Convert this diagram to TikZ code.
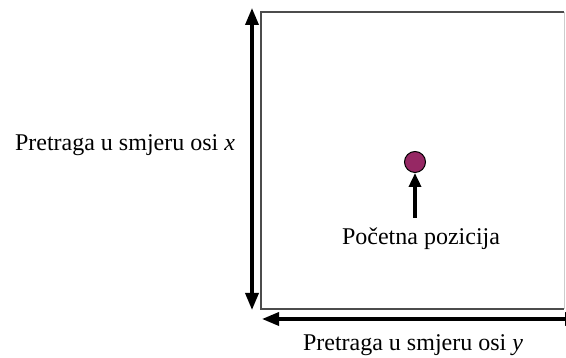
\documentclass[tikz,border=0pt]{standalone}
\usepackage{fontspec}
\setmainfont{Liberation Serif}
\usetikzlibrary{arrows.meta}
\definecolor{pointcol}{RGB}{150,40,100}
\tikzset{
    axisarrow/.style={line width=3.4pt, {Triangle[width=13pt,length=17pt]}-{Triangle[width=13pt,length=17pt]}},
    label/.style={font=\fontsize{24}{28}\selectfont}
}
\begin{document}
\begin{tikzpicture}[x=1pt,y=1pt]
    \useasboundingbox (0,0) rectangle (566,358);
    \clip (0,0) rectangle (566,358);
    % search area
    \draw[gray!60!black, line width=1.8pt] (564,346) -- (261,346) -- (261,49) -- (564,49);
    \draw[gray!40, line width=0.8pt] (564,346) -- (564,49);
    % x direction
    \coordinate (xtop) at (252,350);
    \coordinate (xbot) at (252,48);
    \draw[axisarrow] (xbot) -- (xtop);
    \node[label] (xlab) at (125,213) {Pretraga u smjeru osi \textit{x}};
    % y direction
    \coordinate (yleft) at (262,39);
    \coordinate (yright) at (582,39);
    \draw[axisarrow] (yleft) -- (yright);
    \node[label] (ylab) at (413,13) {Pretraga u smjeru osi \textit{y}};
    % start position
    \node[circle, draw=black, fill=pointcol, line width=1pt, minimum size=21pt, inner sep=0pt] (start) at (415,196) {};
    \node[label] (startlab) at (421,119) {Početna pozicija};
    \coordinate (starttail) at (415,140);
    \draw[line width=3.4pt, -{Triangle[width=12pt,length=14pt]}] (starttail) -- (start.south);
\end{tikzpicture}
\end{document}
